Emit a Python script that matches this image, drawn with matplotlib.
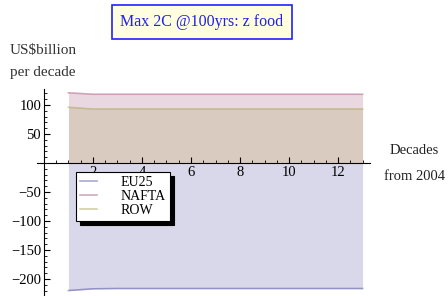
import numpy as np
import matplotlib
matplotlib.use("Agg")
import matplotlib.pyplot as plt

plt.rcParams["font.family"] = ["Liberation Serif", "DejaVu Serif"]

# decades from 2004
decades = [1, 2, 3, 4, 5, 6, 7, 8, 9, 10, 11, 12, 13]
eu25  = [-220, -217, -216.5, -216.5, -216.5, -216.5, -216.5, -216.5, -216.5, -216.5, -216.5, -216.5, -216.5]
nafta = [121, 118.5, 118.5, 118.5, 118.5, 118.5, 118.5, 118.5, 118.5, 118.5, 118.5, 118.5, 118.5]
row   = [96, 93, 93, 93, 93, 93, 93, 93, 93, 93, 93, 93, 93]

series = [("EU25", eu25, (0.24, 0.24, 0.6)),
          ("NAFTA", nafta, (0.6, 0.24, 0.42)),
          ("ROW", row, (0.6, 0.6, 0.24))]

fig = plt.figure(figsize=(4.48, 2.96), dpi=100)
ax = fig.add_axes([0.0817, 0.0027, 0.744, 0.6956])

handles = []
for name, vals, col in series:
    ax.fill_between(decades, vals, 0, color=col, alpha=0.2, lw=0)
    h, = ax.plot(decades, vals, color=col, alpha=0.45, lw=1.2, label=name)
    handles.append(h)

ax.set_xlim(-0.3, 13.3)
ax.set_ylim(-228, 127)

for s in ["top", "right"]:
    ax.spines[s].set_visible(False)
ax.spines["left"].set_position(("data", 0))
ax.spines["bottom"].set_position(("data", 0))
ax.spines["left"].set_linewidth(0.8)
ax.spines["bottom"].set_linewidth(0.8)

ax.set_xticks([2, 4, 6, 8, 10, 12])
ax.set_xticks(np.arange(0.5, 13.1, 0.5), minor=True)
ax.set_yticks([-200, -150, -100, -50, 50, 100])
ax.set_yticklabels(["\u2212200", "\u2212150", "\u2212100", "\u221250", "50", "100"])
ax.set_yticks(np.arange(-220, 121, 10), minor=True)
ax.tick_params(axis="x", which="major", direction="in", length=4, width=0.8, pad=2, labelsize=10.5)
ax.tick_params(axis="x", which="minor", direction="in", length=2, width=0.6)
ax.tick_params(axis="y", which="major", direction="in", length=4, width=0.8, pad=2, labelsize=10.5)
ax.tick_params(axis="y", which="minor", direction="in", length=2, width=0.6)
ax.patch.set_visible(False)

leg = ax.legend(handles=handles, loc="upper left", bbox_to_anchor=(0.118, 0.598),
                borderaxespad=0, fontsize=10, frameon=True, fancybox=False,
                handlelength=1.2, handletextpad=1.7, labelspacing=0.05, borderpad=0.3,
                shadow={"color": "black", "alpha": 1.0, "ox": 3, "oy": -3})
leg.get_frame().set_edgecolor("black")
leg.get_frame().set_linewidth(0.8)

fig.text(0.096, 0.831, "US\\$billion", ha="center", va="center", fontsize=11, color="#333333")
fig.text(0.096, 0.755, "per decade", ha="center", va="center", fontsize=11, color="#333333")
fig.text(0.925, 0.493, "Decades", ha="center", va="center", fontsize=10.5, color="#222222")
fig.text(0.925, 0.405, "from 2004", ha="center", va="center", fontsize=10.5, color="#222222")

fig.text(0.451, 0.926, "Max 2C @100yrs: z food", ha="center", va="center",
         fontsize=11.5, color="#2020ee",
         bbox=dict(boxstyle="square,pad=0.55", facecolor="#ffffe0", edgecolor="#2020ff", lw=1.2))

fig.savefig("out.png", dpi=100)
